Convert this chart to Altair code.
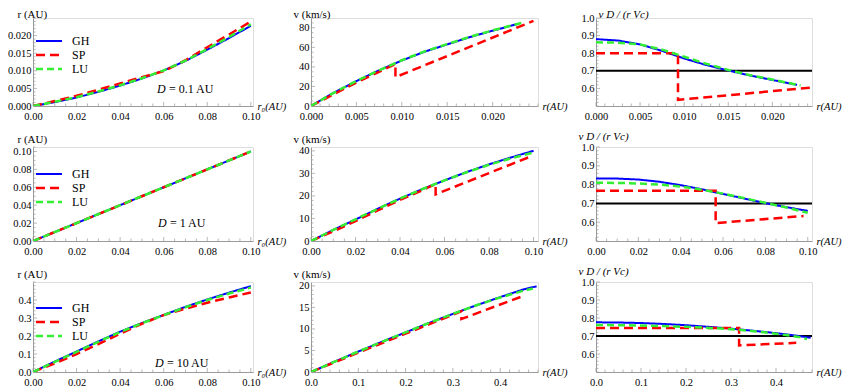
import altair as alt
import numpy as np
import pandas as pd

# ---------------- data ----------------
# Row 1: D = 0.1 AU
A_R0 = [0, 0.01, 0.02, 0.03, 0.04, 0.05, 0.06, 0.07, 0.08, 0.09, 0.10]
A_GH = [0, 0.0011, 0.0024, 0.0040, 0.0058, 0.0078, 0.0101, 0.0128, 0.0160, 0.0193, 0.0228]
A_SP = [0, 0.0014, 0.0029, 0.0046, 0.0064, 0.0082, 0.0099, 0.0130, 0.0167, 0.0203, 0.0240]
A_LU = [0, 0.0012, 0.0025, 0.0041, 0.0059, 0.0079, 0.0101, 0.0129, 0.0162, 0.0196, 0.0232]

B_GH_R = [0, 0.0025, 0.005, 0.0075, 0.010, 0.0125, 0.015, 0.0175, 0.020, 0.0228]
B_GH_V = [0, 13.5, 25.5, 36.5, 46.5, 55.5, 63.0, 70.5, 77.0, 84.0]
B_LU_R = [0, 0.0025, 0.005, 0.0075, 0.010, 0.0125, 0.015, 0.0175, 0.020, 0.0232]
B_LU_V = [0, 13.5, 25.5, 36.5, 46.8, 55.8, 63.3, 70.8, 77.3, 85.0]
B_SP_R = [0, 0.0025, 0.005, 0.0075, 0.0093, 0.0093, 0.0245]
B_SP_V = [0, 12.0, 24.0, 35.0, 43.0, 29.5, 87.0]

C_GH_R = [0, 0.0025, 0.005, 0.0075, 0.010, 0.0125, 0.015, 0.0175, 0.020, 0.0228]
C_GH_Y = [0.880, 0.872, 0.850, 0.813, 0.770, 0.733, 0.702, 0.673, 0.648, 0.620]
C_LU_R = [0, 0.0025, 0.005, 0.0075, 0.010, 0.0125, 0.015, 0.0175, 0.020, 0.0232]
C_LU_Y = [0.862, 0.860, 0.850, 0.820, 0.780, 0.740, 0.705, 0.675, 0.650, 0.617]
C_SP_R = [0, 0.0093, 0.0093, 0.0245]
C_SP_Y = [0.800, 0.800, 0.535, 0.605]

# Row 2: D = 1 AU
D_R0 = [0, 0.025, 0.05, 0.075, 0.10]
D_GH = [0, 0.025, 0.05, 0.075, 0.10]
D_SP = [0, 0.025, 0.05, 0.075, 0.10]
D_LU = [0, 0.025, 0.05, 0.075, 0.10]

E_R = [0, 0.01, 0.02, 0.03, 0.04, 0.05, 0.06, 0.07, 0.08, 0.09, 0.10]
E_GH_V = [0, 4.9, 9.5, 14.3, 18.8, 23.0, 26.9, 30.6, 34.0, 37.1, 40.0]
E_LU_V = [0, 4.9, 9.6, 14.3, 18.8, 23.0, 26.9, 30.5, 33.8, 36.7, 39.3]
E_SP_R = [0, 0.01, 0.02, 0.03, 0.04, 0.05, 0.056, 0.056, 0.098]
E_SP_V = [0, 4.3, 8.8, 13.6, 18.2, 22.5, 25.3, 20.7, 37.2]

F_R = [0, 0.01, 0.02, 0.03, 0.04, 0.05, 0.06, 0.07, 0.08, 0.09, 0.10]
F_GH_Y = [0.833, 0.832, 0.827, 0.815, 0.797, 0.775, 0.750, 0.726, 0.701, 0.680, 0.660]
F_LU_Y = [0.810, 0.809, 0.806, 0.800, 0.790, 0.773, 0.752, 0.728, 0.703, 0.678, 0.650]
F_SP_R = [0, 0.0565, 0.0565, 0.098]
F_SP_Y = [0.767, 0.767, 0.595, 0.633]

# Row 3: D = 10 AU
G_R0 = [0, 0.01, 0.02, 0.03, 0.04, 0.05, 0.06, 0.07, 0.08, 0.09, 0.10]
G_GH = [0, 0.058, 0.114, 0.170, 0.224, 0.272, 0.317, 0.362, 0.403, 0.441, 0.477]
G_SP = [0, 0.048, 0.100, 0.155, 0.213, 0.268, 0.316, 0.352, 0.385, 0.414, 0.442]
G_LU = [0, 0.056, 0.112, 0.168, 0.222, 0.271, 0.316, 0.360, 0.400, 0.436, 0.469]

H_GH_R = [0, 0.05, 0.10, 0.15, 0.20, 0.25, 0.30, 0.35, 0.40, 0.45, 0.477]
H_GH_V = [0, 2.4, 4.75, 7.0, 9.2, 11.4, 13.5, 15.5, 17.4, 19.2, 19.9]
H_LU_R = [0, 0.05, 0.10, 0.15, 0.20, 0.25, 0.30, 0.35, 0.40, 0.45, 0.469]
H_LU_V = [0, 2.4, 4.75, 7.0, 9.2, 11.4, 13.5, 15.5, 17.3, 18.9, 19.4]
H_SP_R = [0, 0.10, 0.20, 0.30, 0.318, 0.318, 0.445]
H_SP_V = [0, 4.5, 8.9, 13.3, 14.1, 12.3, 17.5]

I_GH_R = [0, 0.05, 0.10, 0.15, 0.20, 0.25, 0.30, 0.35, 0.40, 0.45, 0.477]
I_GH_Y = [0.776, 0.775, 0.772, 0.767, 0.760, 0.751, 0.741, 0.729, 0.716, 0.700, 0.690]
I_LU_R = [0, 0.05, 0.10, 0.15, 0.20, 0.25, 0.30, 0.35, 0.40, 0.45, 0.469]
I_LU_Y = [0.761, 0.760, 0.758, 0.755, 0.751, 0.745, 0.738, 0.727, 0.713, 0.695, 0.683]
I_SP_R = [0, 0.318, 0.318, 0.445]
I_SP_Y = [0.745, 0.745, 0.648, 0.662]

REF_LEVEL = [0.7]
SERIES = ["GH", "SP", "LU"]
D_LABELS = ["= 0.1 AU", "= 1 AU", "= 10 AU"]

# tick labels
X01 = [0, 0.02, 0.04, 0.06, 0.08, 0.10]
X025 = [0, 0.005, 0.010, 0.015, 0.020]
X05 = [0, 0.1, 0.2, 0.3, 0.4]
RAT = [0.6, 0.7, 0.8, 0.9, 1.0]

# ---------------- styling ----------------
FONT = "Liberation Serif"
AX = "#9a9a9a"
STYLE = {
    "GH": dict(color="#0000ff", strokeDash=[1, 0], strokeWidth=2.0),
    "SP": dict(color="#ff0000", strokeDash=[9, 5], strokeWidth=2.5),
    "LU": dict(color="#33ee33", strokeDash=[7, 4], strokeWidth=2.5),
}
WIDTHS = [220, 227, 216]
HEIGHTS = [88, 94, 90]


def minor_ticks(major, dom):
    step = major[1] - major[0]
    lead = round(step / 10 ** np.floor(np.log10(step)))
    sub = 4 if lead == 2 else 5
    ms = step / sub
    k0 = int(np.ceil(dom[0] / ms - 1e-9))
    k1 = int(np.floor(dom[1] / ms + 1e-9))
    vals = [round(k * ms, 10) for k in range(k0, k1 + 1)]
    return [v for v in vals if min(abs(v - m) for m in major) > ms * 0.1]


def xaxis(values, fmt, title, w):
    return alt.Axis(values=values, format=fmt, title=title, titleX=w + 4, titleY=0,
                    titleAlign="left", titleBaseline="middle", titleAngle=0,
                    grid=False, ticks=False, domainColor=AX,
                    labelFont=FONT, labelFontSize=10.5, labelColor="black", labelPadding=5,
                    labelFlush=False, labelOverlap=False, labelBound=False,
                    titleFont=FONT, titleFontSize=10.5, titleFontWeight="normal",
                    titleColor="black", titleFontStyle="italic")


def yaxis(values, fmt, title, tx, ty, italic=False):
    return alt.Axis(values=values, format=fmt, title=title, titleX=tx, titleY=ty,
                    titleAlign="left", titleBaseline="alphabetic", titleAngle=0,
                    grid=False, ticks=False, domainColor=AX,
                    labelFont=FONT, labelFontSize=10.5, labelColor="black", labelPadding=2,
                    labelFlush=False, labelOverlap=False, labelBound=False,
                    titleFont=FONT, titleFontSize=11, titleFontWeight="normal",
                    titleColor="black", titleFontStyle="italic" if italic else "normal")


def panel(series, col, row, xdom, ydom, xvals, xfmt, xtitle, yvals, yfmt, ytitle, tx,
          italic=False, ref=False, legend=False, ly=26, dlabel=None, dy=75, dx=124):
    w, h = WIDTHS[col], HEIGHTS[row]
    if row == 0:
        ty = -1
    else:
        ty = -8 if col == 2 else -5
    X = alt.X("x:Q", scale=alt.Scale(domain=xdom, nice=False, zero=False),
              axis=xaxis(xvals, xfmt, xtitle, w))
    Y = alt.Y("y:Q", scale=alt.Scale(domain=ydom, nice=False, zero=False),
              axis=yaxis(yvals, yfmt, ytitle, tx, ty, italic))
    layers = []
    # inward major / minor ticks (Mathematica style)
    layers.append(alt.Chart(pd.DataFrame({"x": xvals})).mark_tick(
        orient="vertical", size=4, thickness=1, color=AX).encode(x=X, y=alt.value(h - 2)))
    layers.append(alt.Chart(pd.DataFrame({"x": minor_ticks(xvals, xdom)})).mark_tick(
        orient="vertical", size=2.5, thickness=1, color=AX).encode(x=X, y=alt.value(h - 1.25)))
    layers.append(alt.Chart(pd.DataFrame({"y": yvals})).mark_tick(
        orient="horizontal", size=4, thickness=1, color=AX).encode(y=Y, x=alt.value(2)))
    layers.append(alt.Chart(pd.DataFrame({"y": minor_ticks(yvals, ydom)})).mark_tick(
        orient="horizontal", size=2.5, thickness=1, color=AX).encode(y=Y, x=alt.value(1.25)))
    if ref:
        layers.append(alt.Chart(pd.DataFrame({"y": REF_LEVEL})).mark_rule(
            color="black", strokeWidth=2).encode(y=Y))
    for name, xs, ys in series:
        df = pd.DataFrame({"x": xs, "y": ys, "i": list(range(len(xs)))})
        layers.append(alt.Chart(df).mark_line(clip=True, strokeCap="butt", **STYLE[name])
                      .encode(x=X, y=Y, order="i:Q"))
    one = pd.DataFrame({"a": [0]})
    if legend:
        for k, name in enumerate(SERIES):
            yy = ly + 14 * k
            layers.append(alt.Chart(one).mark_rule(strokeCap="butt", **STYLE[name]).encode(
                x=alt.value(3), x2=alt.value(29), y=alt.value(yy)))
            layers.append(alt.Chart(one).mark_text(text=name, align="left", baseline="middle",
                                                   font=FONT, fontSize=12, color="black")
                          .encode(x=alt.value(39), y=alt.value(yy)))
    if dlabel is not None:
        layers.append(alt.Chart(one).mark_text(text="D", align="left", baseline="middle",
                                               font=FONT, fontSize=12, fontStyle="italic",
                                               color="black")
                      .encode(x=alt.value(dx), y=alt.value(dy)))
        layers.append(alt.Chart(one).mark_text(text=dlabel, align="left", baseline="middle",
                                               font=FONT, fontSize=12, color="black")
                      .encode(x=alt.value(dx + 12), y=alt.value(dy)))
    return alt.layer(*layers).properties(width=w, height=h)


RTITLE = "r₀(AU)"
VT = "v (km/s)"
RT = "r (AU)"
QT = "v D / (r Vc)"

panels = [
    panel([("GH", A_R0, A_GH), ("SP", A_R0, A_SP), ("LU", A_R0, A_LU)], 0, 0,
          [0, 0.101], [0, 0.025], X01, ".2f", RTITLE,
          [0, 0.005, 0.010, 0.015, 0.020], ".3f", RT, -16,
          legend=True, ly=23, dlabel=D_LABELS[0], dy=71, dx=124),
    panel([("GH", B_GH_R, B_GH_V), ("SP", B_SP_R, B_SP_V), ("LU", B_LU_R, B_LU_V)], 1, 0,
          [0, 0.025], [0, 90], X025, ".3f", "r(AU)",
          [0, 20, 40, 60, 80], "d", VT, -18),
    panel([("GH", C_GH_R, C_GH_Y), ("SP", C_SP_R, C_SP_Y), ("LU", C_LU_R, C_LU_Y)], 2, 0,
          [0, 0.0245], [0.5, 1.0], X025, ".3f", "r(AU)",
          RAT, ".1f", QT, 2, italic=True, ref=True),
    panel([("GH", D_R0, D_GH), ("SP", D_R0, D_SP), ("LU", D_R0, D_LU)], 0, 1,
          [0, 0.101], [0, 0.105], X01, ".2f", RTITLE,
          [0, 0.02, 0.04, 0.06, 0.08, 0.10], ".2f", RT, -16,
          legend=True, ly=27, dlabel=D_LABELS[1], dy=76, dx=125),
    panel([("GH", E_R, E_GH_V), ("SP", E_SP_R, E_SP_V), ("LU", E_R, E_LU_V)], 1, 1,
          [0, 0.102], [0, 41.7], X01, ".2f", "r(AU)",
          [0, 10, 20, 30, 40], "d", VT, -18),
    panel([("GH", F_R, F_GH_Y), ("SP", F_SP_R, F_SP_Y), ("LU", F_R, F_LU_Y)], 2, 1,
          [0, 0.102], [0.5, 1.0], X01, ".2f", "r(AU)",
          RAT, ".1f", QT, -18, italic=True, ref=True),
    panel([("GH", G_R0, G_GH), ("SP", G_R0, G_SP), ("LU", G_R0, G_LU)], 0, 2,
          [0, 0.101], [0, 0.5], X01, ".2f", RTITLE,
          [0, 0.1, 0.2, 0.3, 0.4], ".1f", RT, -16,
          legend=True, ly=26, dlabel=D_LABELS[2], dy=81, dx=122),
    panel([("GH", H_GH_R, H_GH_V), ("SP", H_SP_R, H_SP_V), ("LU", H_LU_R, H_LU_V)], 1, 2,
          [0, 0.48], [0, 20.9], X05, ".1f", "r(AU)",
          [0, 5, 10, 15, 20], "d", VT, -18),
    panel([("GH", I_GH_R, I_GH_Y), ("SP", I_SP_R, I_SP_Y), ("LU", I_LU_R, I_LU_Y)], 2, 2,
          [0, 0.48], [0.5, 1.0], X05, ".1f", "r(AU)",
          RAT, ".1f", QT, -18, italic=True, ref=True),
]

chart = alt.concat(
    *panels, columns=3,
    spacing={"row": 41, "column": 58}, bounds="flush",
).properties(
    autosize=alt.AutoSizeParams(type="none"),
    padding={"left": 25, "top": 10, "right": 813, "bottom": 369},
).configure_view(stroke=None).configure(background="white")

chart.save("out.html", embed_options={"renderer": "svg", "actions": False})
